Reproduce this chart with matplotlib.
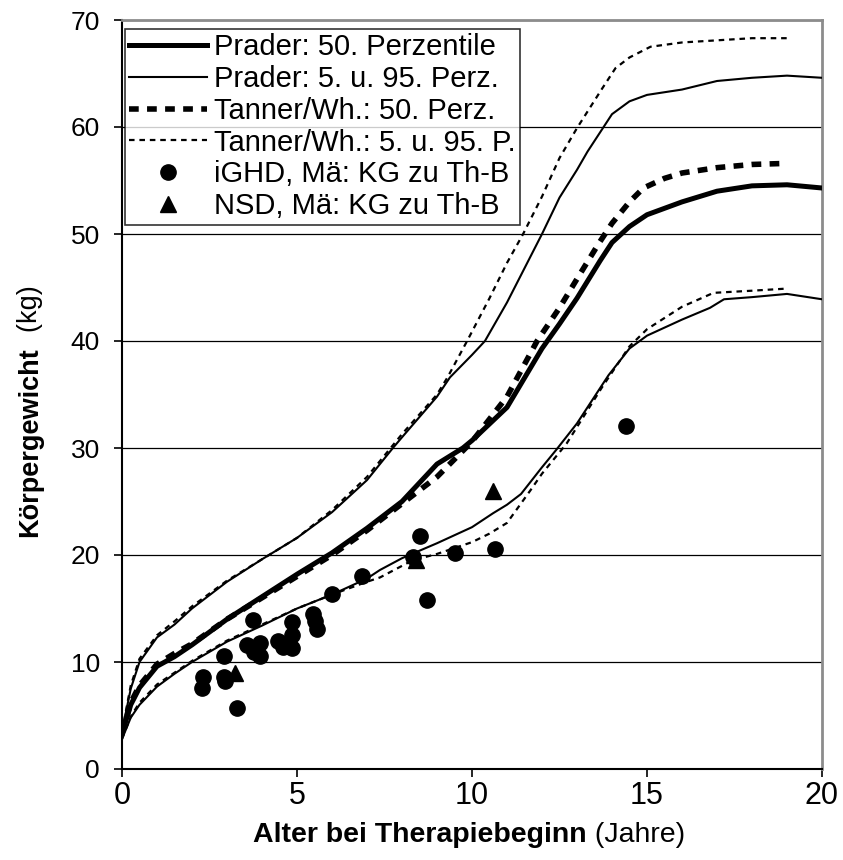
import matplotlib
matplotlib.use('Agg')
import matplotlib.pyplot as plt
from matplotlib import font_manager

# Prader: 50. Perzentile
prader50_age = [0, 0.25, 0.5, 1, 1.5, 2, 3, 4, 5, 6, 7, 8, 9, 9.74, 10, 11, 12, 12.5, 13, 13.66,
                14, 14.5, 15, 16, 17, 18, 19, 20]
prader50_kg = [3.3, 6.0, 7.6, 9.6, 10.5, 11.6, 14.0, 16.1, 18.2, 20.2, 22.5, 25.0, 28.5, 30.0, 30.7,
               33.8, 39.3, 41.6, 44.0, 47.5, 49.2, 50.7, 51.8, 53.0, 54.0, 54.5, 54.6, 54.3]

# Prader: 5. u. 95. Perzentile
prader95_age = [0, 0.25, 0.5, 1, 1.5, 2, 3, 4, 5, 6, 7, 7.74, 8, 9, 9.37, 10, 10.37, 11, 12, 12.5,
                13, 13.3, 14, 14.5, 15, 16, 17, 18, 19, 20]
prader95_kg = [3.5, 7.5, 10.0, 12.3, 13.5, 15.0, 17.5, 19.6, 21.6, 24.0, 27.0, 30.0, 31.0, 34.8, 36.6,
               38.7, 40.0, 43.6, 50.0, 53.4, 56.0, 57.7, 61.2, 62.4, 63.0, 63.5, 64.3, 64.6, 64.8, 64.6]
prader5_age = [0, 0.25, 0.5, 1, 1.5, 2, 3, 4, 5, 6, 7, 7.37, 8, 9, 10, 10.6, 11, 11.4, 12, 12.4,
               13, 13.9, 14.5, 15, 16, 16.8, 17.2, 18, 19, 20]
prader5_kg = [2.8, 4.8, 6.0, 7.7, 8.9, 10.0, 11.9, 13.4, 15.0, 16.3, 17.8, 18.6, 19.7, 21.1, 22.6,
              23.9, 24.7, 25.7, 28.2, 29.8, 32.3, 36.8, 39.3, 40.5, 42.0, 43.1, 43.9, 44.1, 44.4, 43.9]

# Tanner/Whitehouse: 50. Perzentile
tanner50_age = [0, 0.25, 0.5, 1, 1.5, 2, 3, 4, 5, 6, 7, 8, 9, 10, 11, 11.86, 12.5, 13, 13.6,
                14, 14.5, 14.9, 15.5, 16, 17, 18, 19]
tanner50_kg = [3.3, 6.2, 7.8, 9.8, 10.8, 11.7, 14.0, 16.0, 18.0, 20.0, 22.3, 24.8, 27.3, 30.6, 34.8,
               40.0, 43.1, 45.8, 49.0, 51.0, 53.0, 54.3, 55.2, 55.7, 56.2, 56.5, 56.6]

# Tanner/Whitehouse: 5. u. 95. Perzentile
tanner95_age = [0, 0.25, 0.5, 1, 1.5, 2, 3, 4, 5, 6, 7, 8, 9, 9.3, 9.86, 10.5, 11, 11.46, 12,
                12.5, 13, 13.7, 14.1, 14.5, 15.1, 16, 17, 18, 19]
tanner95_kg = [3.5, 7.8, 10.3, 12.5, 13.8, 15.2, 17.6, 19.6, 21.6, 24.2, 27.3, 31.3, 35.0, 36.6, 40.0,
               44.0, 47.3, 50.0, 53.5, 57.1, 59.9, 63.5, 65.5, 66.5, 67.5, 67.9, 68.1, 68.3, 68.3]
tanner5_age = [0, 0.25, 0.5, 1, 1.5, 2, 3, 4, 5, 6, 7, 7.37, 8.3, 9, 10, 10.5, 11, 11.66, 12,
               12.7, 13.7, 14.5, 15, 16, 16.9, 18, 19]
tanner5_kg = [2.8, 4.9, 6.2, 7.9, 9.0, 10.1, 12.0, 13.5, 15.0, 16.3, 17.5, 17.9, 19.5, 20.1, 21.2,
              22.0, 23.0, 26.0, 27.6, 30.4, 35.6, 39.5, 41.1, 43.2, 44.5, 44.7, 44.9]

# Patienten: Körpergewicht zu Therapiebeginn
ighd_age = [2.3, 2.28, 2.9, 2.9, 2.95, 3.28, 3.56, 3.75, 3.77, 3.94, 3.94, 4.46, 4.6, 4.85, 4.86,
            4.86, 5.46, 5.5, 5.57, 6.0, 6.86, 8.3, 8.5, 8.7, 9.5, 10.65, 14.4]
ighd_kg = [8.6, 7.6, 10.6, 8.6, 8.2, 5.7, 11.6, 13.9, 10.9, 11.8, 10.6, 12.0, 11.4, 11.3, 13.7,
           12.5, 14.5, 13.8, 13.1, 16.4, 18.0, 19.8, 21.8, 15.8, 20.2, 20.6, 32.1]
nsd_age = [3.23, 8.4, 10.6]
nsd_kg = [9.0, 19.5, 26.0]

x_ticks = [0, 5, 10, 15, 20]
y_ticks = [0, 10, 20, 30, 40, 50, 60, 70]

# Schriften
base = 'Liberation Sans'
try:
    font_manager.findfont('Liberation Sans Narrow', fallback_to_default=False)
    narrow, xs, xt = 'Liberation Sans Narrow', 25, 26
except Exception:
    narrow, xs, xt = base, 20.5, 22
plt.rcParams['font.family'] = [base, 'DejaVu Sans']
plt.rcParams['lines.scale_dashes'] = False

fig = plt.figure(figsize=(8.43, 8.6), dpi=100)
ax = fig.add_axes([122 / 843, 1 - 769 / 860, 700 / 843, 749 / 860])

ax.plot(prader50_age, prader50_kg, color='black', lw=3.6, label='Prader: 50. Perzentile', zorder=3)
ax.plot(prader95_age, prader95_kg, color='black', lw=1.5, label='Prader: 5. u. 95. Perz.', zorder=3)
ax.plot(prader5_age, prader5_kg, color='black', lw=1.5, zorder=3)
ax.plot(tanner50_age, tanner50_kg, color='black', lw=4.0, dashes=(7, 6),
        label='Tanner/Wh.: 50. Perz.', zorder=3)
ax.plot(tanner95_age, tanner95_kg, color='black', lw=1.6, dashes=(4, 3.5),
        label='Tanner/Wh.: 5. u. 95. P.', zorder=3)
ax.plot(tanner5_age, tanner5_kg, color='black', lw=1.6, dashes=(4, 3.5), zorder=3)
ax.plot(ighd_age, ighd_kg, 'o', color='black', ms=11, ls='none',
        label='iGHD, Mä: KG zu Th-B', zorder=4)
ax.plot(nsd_age, nsd_kg, '^', color='black', ms=11, ls='none',
        label='NSD, Mä: KG zu Th-B', zorder=4)

ax.set_xlim(0, 20)
ax.set_ylim(0, 70)
ax.set_xticks(x_ticks)
ax.set_yticks(y_ticks)
for lbl in ax.get_xticklabels():
    lbl.set_family([narrow, 'DejaVu Sans'])
    lbl.set_fontsize(xt)
ax.tick_params(axis='y', labelsize=19, direction='out', length=6, width=1.2, pad=10)
ax.tick_params(axis='x', direction='out', length=6, width=1.2, pad=3)

ax.yaxis.grid(True, color='black', lw=0.9)
ax.set_axisbelow(True)
for s in ['left', 'bottom']:
    ax.spines[s].set_color('black')
    ax.spines[s].set_linewidth(1.5)
for s in ['top', 'right']:
    ax.spines[s].set_color('#8c8c8c')
    ax.spines[s].set_linewidth(2)

leg = ax.legend(loc='upper left', bbox_to_anchor=(0.0, 0.992), fontsize=21, frameon=True,
                fancybox=False, edgecolor='black', handlelength=2.65, handletextpad=0.25,
                labelspacing=0.13, borderpad=0.15, borderaxespad=0.1, markerscale=1.0)
leg.get_frame().set_linewidth(1.2)

# Achsentitel: fett + normal
t1 = fig.text(253 / 843, 1 - 842 / 860, 'Alter bei Therapiebeginn', fontweight='bold',
              family=[narrow, 'DejaVu Sans'], fontsize=xs, ha='left', va='baseline')
ax.annotate(' (Jahre)', xy=(1, 0), xycoords=t1, va='bottom', ha='left',
            family=[narrow, 'DejaVu Sans'], fontsize=xs)
t2 = fig.text(17 / 843, 1 - 537 / 860, 'Körpergewicht', fontweight='bold', fontsize=19.5,
              rotation=90, ha='left', va='bottom')
ax.annotate('  (kg)', xy=(0, 1), xycoords=t2, va='bottom', ha='left', fontsize=19.5,
            rotation=90)

fig.savefig('out.png', dpi=100)
